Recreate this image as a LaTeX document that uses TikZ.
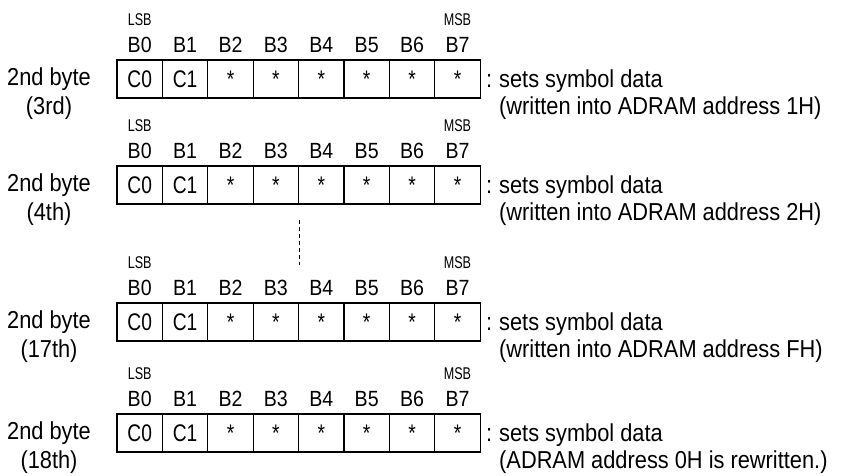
\documentclass[tikz,border=0pt]{standalone}
\usepackage{fontspec}
\setmainfont{Liberation Sans}[FakeStretch=0.89]
\newfontfamily\narrowfont{Liberation Sans}[FakeStretch=0.74]
\newfontfamily\cellfont{Liberation Sans}[FakeStretch=0.8]
\begin{document}
\begin{tikzpicture}[x=1pt,y=-1pt,
  lbl/.style={font=\fontsize{24.5}{29}\selectfont, inner sep=0pt},
  bitlbl/.style={font=\fontsize{22}{26}\selectfont, inner sep=0pt, anchor=base},
  sblbl/.style={font=\narrowfont\fontsize{17}{20}\selectfont, inner sep=0pt, anchor=base},
  cell/.style={draw, line width=1.2pt, minimum width=45.4pt, minimum height=38pt,
    inner xsep=0pt, inner ysep=10.6pt, text height=16.8pt, text depth=0pt,
    font=\cellfont\fontsize{24}{28}\selectfont},
  dots/.style={line width=1pt, dash pattern=on 4pt off 3pt}
]
\useasboundingbox (0,0) rectangle (846,475);
\foreach \T/\ord/\txt [count=\r] in {
  60/{3rd}/{(written into ADRAM address 1H)},
  166/{4th}/{(written into ADRAM address 2H)},
  303/{17th}/{(written into ADRAM address FH)},
  414/{18th}/{(ADRAM address 0H is rewritten.)}}{
  \foreach \lab [count=\i from 0] in {C0,C1,*,*,*,*,*,*}{
    \node[cell] (c\r-\i) at ({117+45.4*(\i+0.5)}, {\T+19}) {\lab};
    \node[bitlbl] (b\r-\i) at ({117+45.4*(\i+0.5)}, {\T-8}) {B\i};
  }
  \node[sblbl] (lsb\r) at ({117+45.4*0.5}, {\T-35}) {LSB};
  \node[sblbl] (msb\r) at ({117+45.4*7.5}, {\T-35}) {MSB};
  \node[lbl, anchor=base] (na\r) at (49, {\T+25}) {2nd byte};
  \node[lbl, anchor=base] (nb\r) at (49, {\T+54}) {(\ord)};
  \node[lbl, anchor=base west] (k\r) at (486, {\T+27}) {:};
  \node[lbl, anchor=base west] (s\r) at (499, {\T+27}) {sets symbol data};
  \node[lbl, anchor=base west] (w\r) at (499, {\T+54}) {\txt};
}
\coordinate (d1) at (299.3,220);
\coordinate (d2) at (299.3,265);
\draw[dots] (d1) -- (d2);
\end{tikzpicture}
\end{document}
